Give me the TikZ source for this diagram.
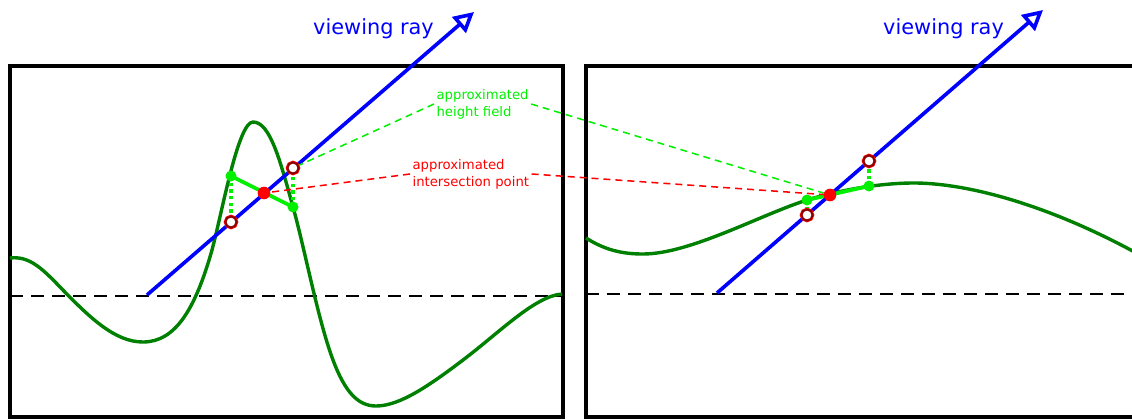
\documentclass[tikz,border=0pt]{standalone}
\usepackage{fontspec}
\setmainfont{DejaVu Sans}
\usetikzlibrary{arrows.meta}
\definecolor{terrain}{RGB}{0,128,0}
\definecolor{hfgreen}{RGB}{0,240,0}
\definecolor{hitred}{RGB}{140,0,0}

\begin{document}
\begin{tikzpicture}[x=0.03cm,y=-0.03cm,
  frame/.style={draw=black,line width=2.9pt},
  ground/.style={black,line width=1.8pt,dash pattern=on 0.39cm off 0.24cm},
  surf/.style={terrain,line width=2.9pt},
  ray/.style={blue,line width=3.1pt,-{Triangle[open,length=0.6cm,width=0.62cm]}},
  hf/.style={hfgreen,line width=3.2pt},
  drop/.style={hfgreen,line width=2.8pt,dash pattern=on 0.1cm off 0.1cm},
  lead/.style={line width=1.3pt,dash pattern=on 0.21cm off 0.15cm},
  hit/.style={circle,draw=hitred,fill=white,line width=1.7pt,minimum size=0.33cm,inner sep=0pt,
    preaction={draw=red,line width=3pt}},
  samp/.style={circle,fill=hfgreen,minimum size=0.33cm,inner sep=0pt},
  isect/.style={circle,fill=red,minimum size=0.38cm,inner sep=0pt},
  lbl/.style={font=\fontsize{11.3}{14.5}\selectfont,align=left,inner sep=2pt,anchor=west},
  raylbl/.style={font=\fontsize{17.8}{20}\selectfont,text=blue,anchor=base west,inner sep=0pt}]
\useasboundingbox (0,0) rectangle (1132,419);
% left panel
\draw[frame] (10,66) rectangle (563,417);
\draw[ground] (10,296) -- (563,296);
\draw[surf] (10,258) .. controls (28,256) and (40,266) .. (60,287)
  .. controls (90,318) and (115,342) .. (143,342)
  .. controls (175,342) and (195,310) .. (212,250)
  .. controls (222,213) and (238,122) .. (253,122)
  .. controls (270,122) and (280,160) .. (293,207)
  .. controls (305,250) and (318,320) .. (333,360)
  .. controls (345,392) and (358,406) .. (376,406)
  .. controls (400,406) and (430,385) .. (463,360)
  .. controls (500,332) and (535,296) .. (562,294);
\coordinate (sL) at (147,295);
\coordinate (tL) at (474,12);
\coordinate (aL) at (231,176);
\coordinate (bL) at (293,207);
\coordinate (xL) at (264,193);
\coordinate (oaL) at (231,222);
\coordinate (obL) at (293,168);
\draw[ray] (sL) -- (tL);
\draw[hf] (aL) -- (bL);
\draw[drop] (aL) -- (oaL);
\draw[drop] (bL) -- (obL);
\node[hit] (haL) at (oaL) {};
\node[hit] (hbL) at (obL) {};
\node[samp] (gaL) at (aL) {};
\node[samp] (gbL) at (bL) {};
\node[isect] (ixL) at (xL) {};
\node[raylbl] (vrL) at (313,34) {viewing ray};
% right panel
\draw[frame] (586,66) rectangle (1145,417);
\draw[ground] (586,294) -- (1132,294);
\draw[surf] (586,238) .. controls (605,250) and (622,254) .. (643,254)
  .. controls (690,254) and (760,215) .. (807,200)
  .. controls (840,190) and (880,183) .. (914,183)
  .. controls (960,183) and (1040,200) .. (1140,255);
\coordinate (sR) at (717,293);
\coordinate (tR) at (1043,10);
\coordinate (aR) at (807,200);
\coordinate (bR) at (869,186);
\coordinate (xR) at (830,195);
\coordinate (oaR) at (807,215);
\coordinate (obR) at (869,161);
\draw[ray] (sR) -- (tR);
\draw[hf] (aR) -- (bR);
\draw[drop] (aR) -- (oaR);
\draw[drop] (bR) -- (obR);
\node[hit] (haR) at (oaR) {};
\node[hit] (hbR) at (obR) {};
\node[samp] (gaR) at (aR) {};
\node[samp] (gbR) at (bR) {};
\node[isect] (ixR) at (xR) {};
\node[raylbl] (vrR) at (883,34) {viewing ray};
% labels
\node[lbl,text=hfgreen] (hfText) at (434,104) {approximated\\height field};
\node[lbl,text=red] (ipText) at (410,174) {approximated\\intersection point};
\draw[lead,hfgreen] (hfText.west) -- (hbL);
\draw[lead,hfgreen] (hfText.east) -- (ixR);
\draw[lead,red] (ipText.west) -- (ixL);
\draw[lead,red] (ipText.east) -- (ixR);
\end{tikzpicture}
\end{document}
